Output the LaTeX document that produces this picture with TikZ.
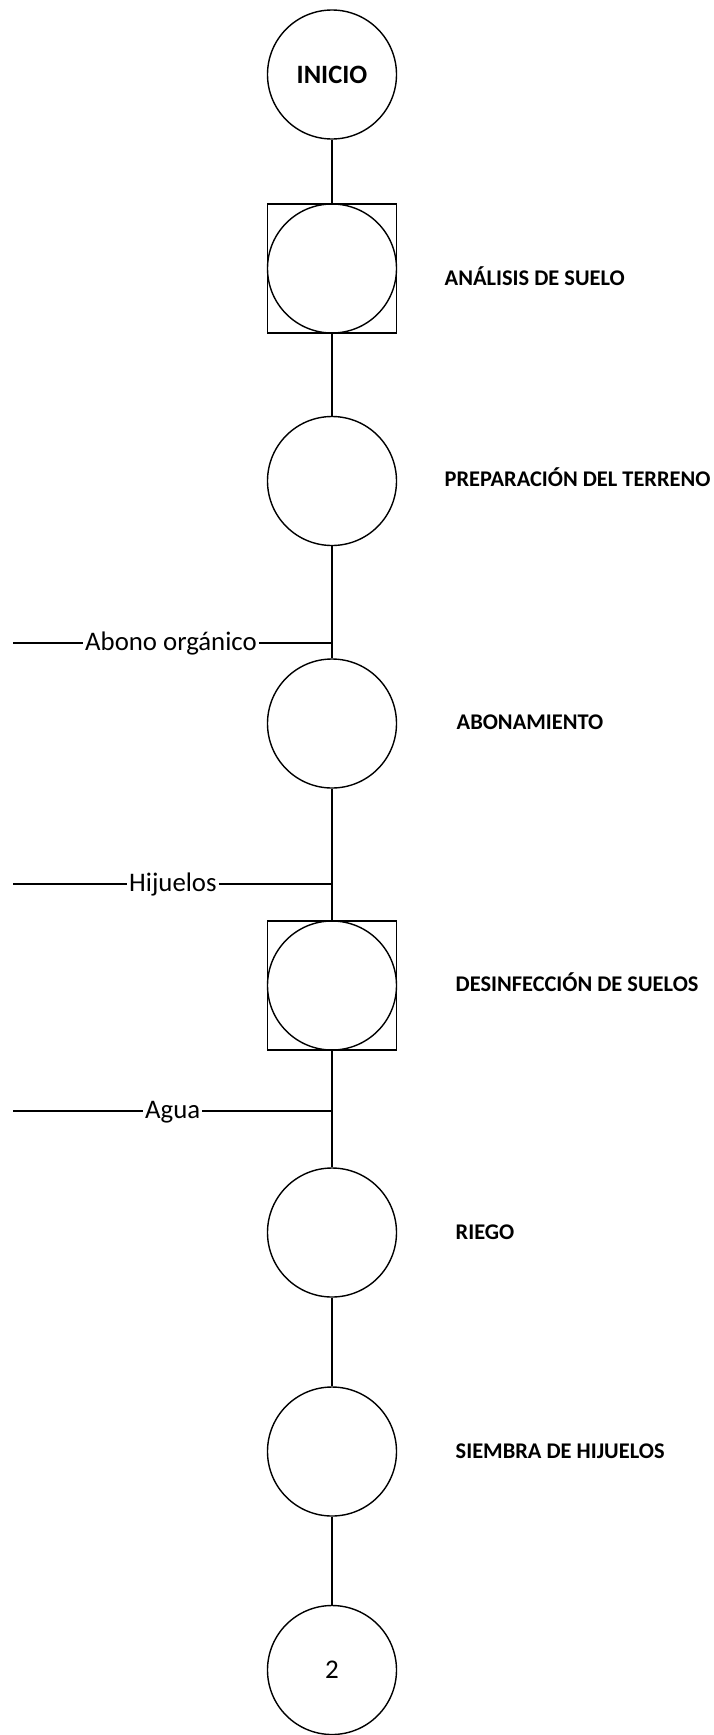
\documentclass[tikz,border=0pt]{standalone}
\usepackage{fontspec}
\setmainfont{Carlito}
\begin{document}
\begin{tikzpicture}[x=1pt,y=-1pt,line width=1.4pt,
  circ/.style={circle,draw,minimum size=129pt,inner sep=0pt},
  sq/.style={rectangle,draw,minimum size=129pt,inner sep=0pt},
  lbl/.style={anchor=base west,inner sep=0pt,font=\fontsize{22.4}{26}\selectfont\bfseries},
  feed/.style={anchor=base west,inner sep=1.5pt,font=\fontsize{26.8}{30}\selectfont}]
\useasboundingbox (0,0) rectangle (713,1735);
% main nodes
\node[circ,font=\fontsize{26.5}{30}\selectfont\bfseries] (n1) at (332,74.5) {INICIO};
\node[sq] (s2) at (332,268.5) {};
\node[circ] (n2) at (332,268.5) {};
\node[circ] (n3) at (332,481) {};
\node[circ] (n4) at (332,723.5) {};
\node[sq] (s5) at (332,985.5) {};
\node[circ] (n5) at (332,985.5) {};
\node[circ] (n6) at (332,1232.5) {};
\node[circ] (n7) at (332,1451.5) {};
\node[circ,font=\fontsize{27}{30}\selectfont] (n8) at (332,1670) {2};
% labels
\node[lbl] (l2) at (444,285) {ANÁLISIS DE SUELO};
\node[lbl] (l3) at (444,486) {PREPARACIÓN DEL TERRENO};
\node[lbl] (l4) at (456,729.3) {ABONAMIENTO};
\node[lbl] (l5) at (455,991.5) {DESINFECCIÓN DE SUELOS};
\node[lbl] (l6) at (455,1239) {RIEGO};
\node[lbl] (l7) at (455,1458) {SIEMBRA DE HIJUELOS};
% main flow
\draw (n1.south) -- (s2.north);
\draw (s2.south) -- (n3.north);
\draw (n3.south) -- (n4.north);
\draw (n4.south) -- (s5.north);
\draw (s5.south) -- (n6.north);
\draw (n6.south) -- (n7.north);
\draw (n7.south) -- (n8.north);
% feed lines
\coordinate (j1) at (332,643);
\coordinate (e1) at (13,643);
\node[feed] (f1) at (83,650.5) {Abono orgánico};
\draw (e1) -- (e1 -| f1.west);
\draw (j1 -| f1.east) -- (j1);
\coordinate (j2) at (332,884);
\coordinate (e2) at (13,884);
\node[feed] (f2) at (127,891.5) {Hijuelos};
\draw (e2) -- (e2 -| f2.west);
\draw (j2 -| f2.east) -- (j2);
\coordinate (j3) at (332,1111);
\coordinate (e3) at (13,1111);
\node[feed] (f3) at (143,1118.5) {Agua};
\draw (e3) -- (e3 -| f3.west);
\draw (j3 -| f3.east) -- (j3);
\end{tikzpicture}
\end{document}
